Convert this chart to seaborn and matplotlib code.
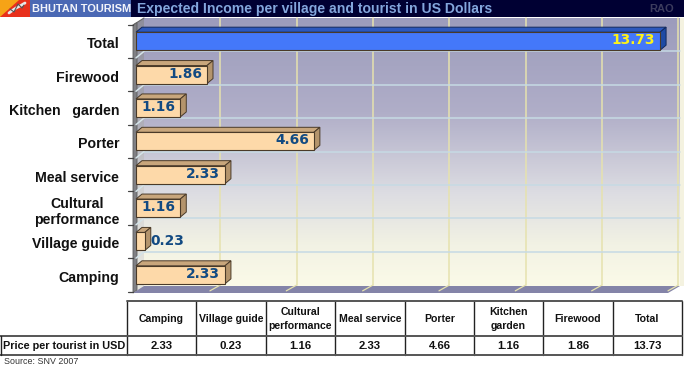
import numpy as np
import matplotlib
matplotlib.use("Agg")
import matplotlib.pyplot as plt
import pandas as pd
import seaborn as sns
from matplotlib.colors import LinearSegmentedColormap
from matplotlib.patches import Polygon, Rectangle
from matplotlib.transforms import Affine2D

# data, top of the chart first
categories = ["Total", "Firewood", "Kitchen   garden", "Porter", "Meal service",
              "Cultural\nperformance", "Village guide", "Camping"]
values = [13.73, 1.86, 1.16, 4.66, 2.33, 1.16, 0.23, 2.33]
bar_colors = ["#4478fa", "#fdd9a9", "#fdd9a9", "#fdd9a9", "#fdd9a9", "#fdd9a9", "#fdd9a9", "#fdd9a9"]

table_headers = ["Camping", "Village guide", "Cultural\nperformance", "Meal service",
                 "Porter", "Kitchen\ngarden", "Firewood", "Total"]
table_values = ["2.33", "0.23", "1.16", "2.33", "4.66", "1.16", "1.86", "13.73"]
table_row_label = "Price per tourist in USD"
x_ticks = [0, 2, 4, 6, 8, 10, 12, 14]

W, H = 684, 368
PX_PER_UNIT = 38.17

sns.set_theme(style="white")
plt.rcParams["font.family"] = ["Liberation Sans", "DejaVu Sans"]

fig = plt.figure(figsize=(W / 100, H / 100), dpi=100, facecolor="white")

# ---- pixel space layer for header, walls and table
bg = fig.add_axes([0, 0, 1, 1], zorder=0)

wall_cmap = LinearSegmentedColormap.from_list(
    "wall",
    [(0, "#9c9cbc"), (0.35, "#b0aec8"), (0.65, "#dcdce2"), (0.85, "#f2f2e4"), (1, "#fbfae8")],
)
side_cmap = LinearSegmentedColormap.from_list("side", ["#8e8e9c", "#a8a8b4", "#d8d8d8", "#e8e8e0"])
ramp = np.linspace(0, 1, 128)[:, None]
bg.imshow(ramp, cmap=wall_cmap, aspect="auto", extent=(144, 680, 286, 18), zorder=1)
bg.imshow(ramp, cmap=side_cmap, aspect="auto", extent=(136, 144, 293, 18), zorder=1)
bg.set_xlim(0, W)
bg.set_ylim(H, 0)
bg.axis("off")

bg.add_patch(Polygon([(122, 0), (144, 0), (144, 18), (133, 25), (122, 25)], fc="white", ec="none", zorder=2))
bg.add_patch(Polygon([(133, 25), (137, 22.5), (137, 290), (133, 293)], fc="#808084", ec="#5c5c5c", lw=0.6, zorder=2))
bg.add_patch(Polygon([(133, 293), (144, 286), (680, 286), (668, 293)], fc="#8484a8", ec="none", zorder=2))
bg.plot([133, 144], [25, 18], color="#666666", lw=0.8, zorder=2)
bg.add_patch(Rectangle((680, 18), 4, 268, fc="#f4f2e0", ec="none", zorder=1))

# header band
bg.add_patch(Rectangle((0, 0), W, 17, fc="#000033", ec="none", zorder=3))
bg.add_patch(Rectangle((30, 0), 101, 17, fc="#4a68b4", ec="none", zorder=4))
bg.add_patch(Polygon([(0, 0), (30, 0), (30, 17), (0, 17)], fc="#e8301c", ec="none", zorder=4))
bg.add_patch(Polygon([(0, 17), (19, 0), (0, 0)], fc="#f6a316", ec="none", zorder=5))
bg.plot([9, 13, 16, 20, 25], [13, 10, 8, 6, 3], color="#e8e8e8", lw=2.0, zorder=6)
bg.plot([10, 14, 18, 22, 24], [9, 12, 4, 8, 5], color="#555555", lw=0.8, zorder=7)
bg.text(32.5, 8.5, "BHUTAN TOURISM", color="#f2f4fa", fontsize=7.9, fontweight="bold",
        va="center", zorder=6)
bg.text(137, 8.5, "Expected Income per village and tourist in US Dollars", color="#83a6dc",
        fontsize=10.1, fontweight="bold", va="center", zorder=6)
bg.text(649, 9.5, "RAO", color="#3c3c5e", fontsize=8, fontweight="bold", va="center", zorder=6)

# table
col_edges = [127, 196, 266, 335, 405, 474, 543, 613, 682]
row_edges = [301, 336, 355]
for xe in col_edges:
    bg.plot([xe, xe], [row_edges[0], row_edges[2]], color="#222222", lw=1.0, zorder=3)
bg.plot([127, 682], [row_edges[0]] * 2, color="#555555", lw=1.4, zorder=3)
bg.plot([0, 682], [row_edges[1]] * 2, color="#555555", lw=1.4, zorder=3)
bg.plot([0, 682], [row_edges[2]] * 2, color="#555555", lw=1.4, zorder=3)
bg.plot([1, 1], [row_edges[1], row_edges[2]], color="#222222", lw=1.0, zorder=3)
for i, (head, val) in enumerate(zip(table_headers, table_values)):
    xc = (col_edges[i] + col_edges[i + 1]) / 2
    bg.text(xc, 319, head, ha="center", va="center", fontsize=7.6, fontweight="bold",
            color="#111111", linespacing=1.45, zorder=4)
    bg.text(xc, 346, val, ha="center", va="center", fontsize=8.2, fontweight="bold",
            color="#111111", zorder=4)
bg.text(3, 346, table_row_label, ha="left", va="center", fontsize=7.8, fontweight="bold",
        color="#111111", zorder=4)
bg.text(4, 362, "Source: SNV 2007", ha="left", va="center", fontsize=6.4, color="#333333", zorder=4)

# ---- bar layer: front plane of the chart
band_top, band_bottom = 24.5, 291.5
left = 136
x_max = 14.5
ax = fig.add_axes([left / W, 1 - band_bottom / H, x_max * PX_PER_UNIT / W, (band_bottom - band_top) / H], zorder=1)
ax.patch.set_alpha(0)

df = pd.DataFrame({"category": categories, "value": values})
sns.barplot(data=df, x="value", y="category", hue="category", palette=bar_colors, legend=False,
            orient="h", width=0.54, ax=ax, edgecolor="#4a3a28", linewidth=0.8, saturation=1, zorder=5)
ax.set_xlim(0, x_max)
ax.set_ylim(len(categories) - 0.5, -0.5)
ax.set_xlabel("")
ax.set_ylabel("")
ax.set_xticks([])
ax.tick_params(axis="y", length=0, pad=12)
for lab in ax.get_yticklabels():
    lab.set_fontsize(10.2)
    lab.set_fontweight("bold")
    lab.set_color("#111111")
    lab.set_multialignment("center")
    lab.set_linespacing(1.2)
    lab.set_transform(lab.get_transform() + Affine2D().translate(0, -1.5))
for s in ax.spines.values():
    s.set_visible(False)

px_per_band = (band_bottom - band_top) / len(categories)
wall_dx = 8 / PX_PER_UNIT
wall_dy = 6.5 / px_per_band
bar_dx = 6 / PX_PER_UNIT
bar_dy = 5 / px_per_band
wall_end = (680 - left) / PX_PER_UNIT

# grid on the back wall, with its run across the side wall and the floor
for t in x_ticks[1:]:
    ax.plot([t + wall_dx] * 2, [-0.5 - wall_dy, 7.5 - wall_dy], color="#e6e2ae", lw=1.1, zorder=1, clip_on=False)
    ax.plot([t + wall_dx, t - wall_dx * 0.3], [7.5 - wall_dy, 7.5 - 0.02], color="#e6e2ae", lw=0.9, zorder=1, clip_on=False)
ax.plot([-3 / PX_PER_UNIT, -8 / PX_PER_UNIT], [-0.5, -0.5], color="#444444", lw=0.9, clip_on=False)
for b in np.arange(len(categories)) + 0.5:
    if b < 7:
        ax.plot([wall_dx, wall_end], [b - wall_dy] * 2, color="#c6dae4", lw=1.1, zorder=1, clip_on=False)
        ax.plot([0, wall_dx], [b, b - wall_dy], color="#d4e4ea", lw=1.1, zorder=2, clip_on=False)
    ax.plot([-8 / PX_PER_UNIT, -3 / PX_PER_UNIT], [b, b], color="#444444", lw=0.9, zorder=2, clip_on=False)

# extrude every bar from the rectangle seaborn drew
for patch, val in zip(ax.patches, values):
    x0, y0 = patch.get_x(), patch.get_y()
    w, h = patch.get_width(), patch.get_height()
    y1 = y0 + h
    is_total = val == max(values)
    top_c = "#2c58bc" if is_total else "#c8a67c"
    side_c = "#1f4aa4" if is_total else "#b4946c"
    edge_c = "#12285c" if is_total else "#4a3a28"
    ax.add_patch(Polygon([(x0, y0), (x0 + bar_dx, y0 - bar_dy), (x0 + w + bar_dx, y0 - bar_dy), (x0 + w, y0)],
                         fc=top_c, ec=edge_c, lw=0.7, zorder=4, clip_on=False))
    ax.add_patch(Polygon([(x0 + w, y0), (x0 + w + bar_dx, y0 - bar_dy), (x0 + w + bar_dx, y1 - bar_dy), (x0 + w, y1)],
                         fc=side_c, ec=edge_c, lw=0.7, zorder=4, clip_on=False))

    color = "#fdf21a" if is_total else "#124a82"
    xy_off, ha = ((6, 0), "left") if val < 0.5 else ((-5, 1), "right")
    ax.annotate(f"{val:.2f}", (x0 + w, y0 + h / 2), xytext=xy_off, textcoords="offset pixels",
                ha=ha, va="center", fontsize=9.9, fontweight="bold", family="DejaVu Sans",
                color=color, zorder=6)

fig.savefig("out.png", dpi=100)
